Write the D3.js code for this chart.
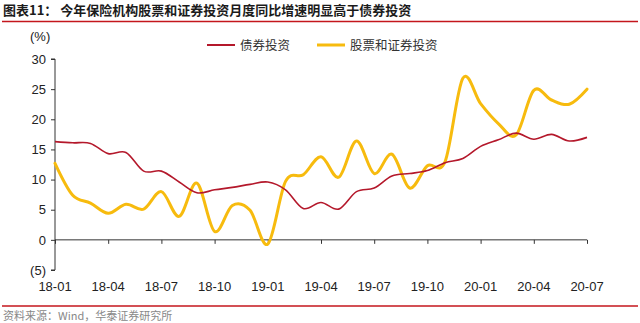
<!DOCTYPE html>
<html>
<head>
<meta charset="utf-8">
<script src="https://cdn.jsdelivr.net/npm/d3@7"></script>
<style>
  html, body { margin: 0; padding: 0; background: #fff; }
  svg { display: block; }
</style>
</head>
<body>
<svg id="chart" width="640" height="323"></svg>
<script>
// Monthly categories, Jan 2018 – Jul 2020
const months = [
  "18-01","18-02","18-03","18-04","18-05","18-06","18-07","18-08","18-09","18-10","18-11","18-12",
  "19-01","19-02","19-03","19-04","19-05","19-06","19-07","19-08","19-09","19-10","19-11","19-12",
  "20-01","20-02","20-03","20-04","20-05","20-06","20-07"
];
// Bond investment, YoY growth (%)
const bondValues = [16.3,16.1,16.0,14.3,14.5,11.4,11.4,9.6,7.8,8.3,8.7,9.2,
  9.6,8.3,5.2,6.2,5.1,8.0,8.6,10.6,11.0,11.5,12.8,13.5,
  15.5,16.6,17.7,16.7,17.5,16.4,17.0];
// Stock & securities investment, YoY growth (%)
const stockValues = [12.7,7.4,6.1,4.4,5.9,5.1,8.0,3.9,9.4,1.4,5.7,4.9,
  -0.7,9.7,10.8,13.8,10.4,16.4,11.0,14.2,8.6,12.3,13.0,26.8,
  22.6,19.3,17.4,24.8,23.2,22.5,25.0];
const xTickLabels = ["18-01","18-04","18-07","18-10","19-01","19-04","19-07","19-10","20-01","20-04","20-07"];
const yTicks = [-5, 0, 5, 10, 15, 20, 25, 30];
const seriesNames = ["债券投资", "股票和证券投资"];

const svg = d3.select("#chart");
const RED = "#b4182b", GOLD = "#f7bb0e", RULE = "#c4161c";

// Header
svg.append("text").attr("x", 3).attr("y", 15)
  .attr("font-family", "'Noto Sans CJK SC', sans-serif").attr("font-size", 13)
  .attr("font-weight", "bold").attr("fill", "#1b1b1b")
  .text("图表11：  今年保险机构股票和证券投资月度同比增速明显高于债券投资");
svg.append("line").attr("x1", 2).attr("x2", 638).attr("y1", 21.5).attr("y2", 21.5)
  .attr("stroke", RULE).attr("stroke-width", 1.5);

// Scales
const x = d3.scalePoint().domain(months).range([55, 587]);
const y = d3.scaleLinear().domain([-5, 30]).range([270, 59]);

// Y axis
const yAxis = d3.axisLeft(y).tickValues(yTicks).tickSize(4).tickPadding(5)
  .tickFormat(d => d < 0 ? `(${Math.abs(d)})` : d);
const gy = svg.append("g").attr("transform", "translate(55,0)").call(yAxis);
gy.select(".domain").attr("stroke", "#333").attr("d", `M-4,${y(30)}H0V${y(-5)}H-4`);
gy.selectAll(".tick line").attr("stroke", "#333");
gy.selectAll(".tick text").attr("font-family", "'Liberation Sans', Arial, sans-serif")
  .attr("font-size", 13).attr("fill", "#222");

svg.append("text").attr("x", 30).attr("y", 41)
  .attr("font-family", "'Liberation Sans', Arial, sans-serif").attr("font-size", 13)
  .attr("fill", "#222").text("(%)");

// X axis along zero line
const xAxis = d3.axisBottom(x).tickValues(xTickLabels).tickSize(4).tickFormat("");
const gx = svg.append("g").attr("transform", `translate(0,${y(0)})`).call(xAxis);
gx.select(".domain").attr("stroke", "#333").attr("d", `M55,0H587`);
gx.selectAll(".tick line").attr("stroke", "#333");

// Category labels below the plot
svg.append("g").selectAll("text").data(xTickLabels).join("text")
  .attr("x", d => x(d)).attr("y", 291)
  .attr("text-anchor", "middle")
  .attr("font-family", "'Liberation Sans', Arial, sans-serif").attr("font-size", 13)
  .attr("fill", "#222").text(d => d);

// Lines
const line = d3.line()
  .x((d, i) => x(months[i]))
  .y(d => y(d))
  .curve(d3.curveCardinal.tension(0));

svg.append("path").datum(stockValues).attr("d", line)
  .attr("fill", "none").attr("stroke", GOLD).attr("stroke-width", 3)
  .attr("stroke-linejoin", "round").attr("stroke-linecap", "round");
svg.append("path").datum(bondValues).attr("d", line)
  .attr("fill", "none").attr("stroke", RED).attr("stroke-width", 1.6)
  .attr("stroke-linejoin", "round");

// Legend
const legend = [
  { name: seriesNames[0], color: RED, width: 2, x: 207 },
  { name: seriesNames[1], color: GOLD, width: 3, x: 317 }
];
const lg = svg.append("g").selectAll("g").data(legend).join("g")
  .attr("transform", d => `translate(${d.x},45)`);
lg.append("line").attr("x1", 0).attr("x2", 28).attr("y1", 0).attr("y2", 0)
  .attr("stroke", d => d.color).attr("stroke-width", d => d.width);
lg.append("text").attr("x", 33).attr("y", 4.5)
  .attr("font-family", "'Noto Sans CJK SC', sans-serif").attr("font-size", 12.5)
  .attr("fill", "#333").text(d => d.name);

// Footer
svg.append("line").attr("x1", 2).attr("x2", 638).attr("y1", 306).attr("y2", 306)
  .attr("stroke", RULE).attr("stroke-width", 1.5);
svg.append("text").attr("x", 3).attr("y", 320)
  .attr("font-family", "'Noto Sans CJK SC', sans-serif").attr("font-size", 11)
  .attr("fill", "#888").text("资料来源：Wind，华泰证券研究所");
</script>
</body>
</html>
